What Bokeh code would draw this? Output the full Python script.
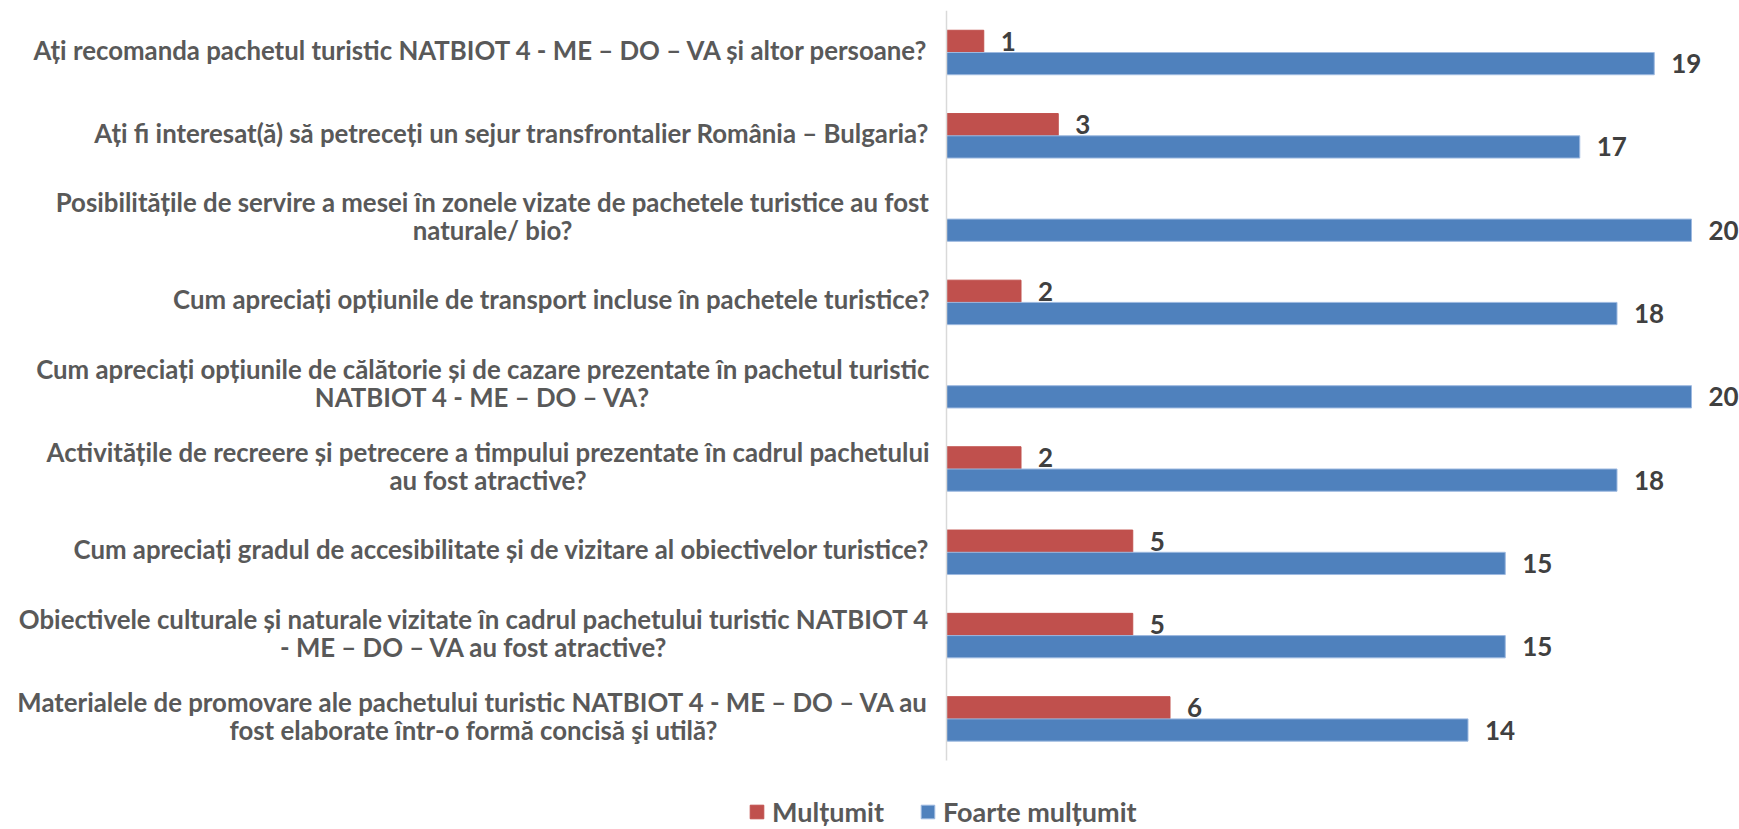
from bokeh.plotting import figure
from bokeh.models import ColumnDataSource, Range1d, Legend, LegendItem
from bokeh.core.properties import value
from bokeh.embed import file_html
from bokeh.resources import INLINE

categories = [
    "Ați recomanda pachetul turistic NATBIOT 4 - ME – DO – VA și altor persoane?",
    "Ați fi interesat(ă) să petreceți un sejur transfrontalier România – Bulgaria?",
    "Posibilitățile de servire a mesei în zonele vizate de pachetele turistice au fost\nnaturale/ bio?",
    "Cum apreciați opțiunile de transport incluse în pachetele turistice?",
    "Cum apreciați opțiunile de călătorie și de cazare prezentate în pachetul turistic\nNATBIOT 4 - ME – DO – VA?",
    "Activitățile de recreere și petrecere a timpului prezentate în cadrul pachetului\nau fost atractive?",
    "Cum apreciați gradul de accesibilitate și de vizitare al obiectivelor turistice?",
    "Obiectivele culturale și naturale vizitate în cadrul pachetului turistic NATBIOT 4\n- ME – DO – VA au fost atractive?",
    "Materialele de promovare ale pachetului turistic NATBIOT 4 - ME – DO – VA au\nfost elaborate într-o formă concisă şi utilă?",
]
multumit = [1, 3, 0, 2, 0, 2, 5, 5, 6]
foarte_multumit = [19, 17, 20, 18, 20, 18, 15, 15, 14]
series_names = ["Mulțumit", "Foarte mulțumit"]

RED = "#C0504D"
BLUE = "#4F81BD"
FONT = "Lato"
FS = "25.8px"

W, H = 1739, 829
PX_PER_UNIT = 37.25
AXIS_PX = 946
CAT_PX = 83.3
FIRST_PX = 52
BAR_H = 0.267

n = len(categories)
pos = list(range(n))

xmin = -AXIS_PX / PX_PER_UNIT
ymin_top = -FIRST_PX / CAT_PX
ymax_bot = ymin_top + H / CAT_PX

p = figure(width=W, height=H, output_backend="svg", toolbar_location=None,
           x_range=Range1d(xmin, xmin + W / PX_PER_UNIT),
           y_range=Range1d(ymax_bot, ymin_top),
           min_border=0, outline_line_color=None)
p.axis.visible = False
p.grid.visible = False
p.background_fill_color = "white"

src = ColumnDataSource(dict(
    y=pos, cat=categories, m=multumit, f=foarte_multumit,
    ym=[y - BAR_H / 2 for y in pos], yf=[y + BAR_H / 2 for y in pos],
))

r_m = p.hbar(y="ym", left=0, right="m", height=BAR_H, source=src,
             fill_color=RED, line_color=RED)
r_f = p.hbar(y="yf", left=0, right="f", height=BAR_H, source=src,
             fill_color=BLUE, line_color="#9DB9E0", line_width=1)

# axis line
p.segment(x0=[0], x1=[0], y0=[-0.5], y1=[n - 0.5], line_color="#D9D9D9", line_width=1.5)

# category labels
p.text(x=0, y="y", text="cat", source=src, x_offset=-17, y_offset=-3,
       anchor="center_right", text_align="center", text_baseline="middle",
       text_font=value(FONT), text_font_style="bold", text_font_size=FS,
       text_color="#595959", text_line_height=0.93)

# data labels
ml = [(v, y) for v, y in zip(multumit, src.data["ym"]) if v > 0]
src_ml = ColumnDataSource(dict(x=[v for v, _ in ml], y=[y for _, y in ml], t=[str(v) for v, _ in ml]))
src_fl = ColumnDataSource(dict(x=foarte_multumit, y=src.data["yf"], t=[str(v) for v in foarte_multumit]))
for s in (src_ml, src_fl):
    p.text(x="x", y="y", text="t", source=s, x_offset=17, text_align="left", text_baseline="middle",
           text_font=value(FONT), text_font_style="bold", text_font_size="26px", text_color="#404040")

legend = Legend(items=[LegendItem(label=series_names[0], renderers=[r_m]),
                       LegendItem(label=series_names[1], renderers=[r_f])],
                orientation="horizontal", location=(748, 1),
                glyph_width=17, glyph_height=17, label_standoff=7, spacing=35,
                padding=0, margin=0, border_line_color=None, background_fill_alpha=0,
                label_text_font=FONT, label_text_font_style="bold", label_text_font_size="27px",
                label_text_color="#595959")
p.add_layout(legend, "center")

open("out.html", "w").write(file_html(p, INLINE))
